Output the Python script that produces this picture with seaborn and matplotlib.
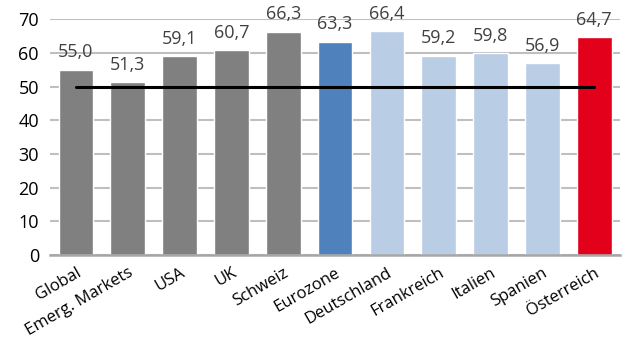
import matplotlib
matplotlib.use("Agg")
import matplotlib.pyplot as plt
import seaborn as sns
import pandas as pd

categories = ["Global", "Emerg. Markets", "USA", "UK", "Schweiz", "Eurozone",
              "Deutschland", "Frankreich", "Italien", "Spanien", "Österreich"]
values = [55.0, 51.3, 59.1, 60.7, 66.3, 63.3, 66.4, 59.2, 59.8, 56.9, 64.7]
threshold = [50] * len(categories)
colors = ["#808080"] * 5 + ["#4F81BD"] + ["#B9CDE5"] * 4 + ["#E2001A"]

sns.set_theme(style="white")
plt.rcParams['font.family'] = ['Open Sans', 'DejaVu Sans']

df = pd.DataFrame({"cat": categories, "val": values, "thr": threshold})

fig = plt.figure(figsize=(6.34, 3.41), dpi=100)
ax = fig.add_axes([0.079, 0.252, 0.899, 0.692])

sns.barplot(data=df, x="cat", y="val", hue="cat", palette=colors, legend=False,
            width=0.67, saturation=1, ax=ax, zorder=2)
sns.lineplot(x=list(range(len(categories))), y=df["thr"], color="black", linewidth=2.2,
             ax=ax, zorder=3)

ax.set_ylim(0, 70)
ax.set_xlim(-0.5, len(categories) - 0.5)
ax.set_yticks(range(0, 71, 10))
ax.yaxis.grid(True, color="#BFBFBF", linewidth=1.5, zorder=0)
ax.set_axisbelow(True)
for s in ["left", "right", "top"]:
    ax.spines[s].set_visible(False)
ax.spines["bottom"].set_color("#A6A6A6")
ax.spines["bottom"].set_linewidth(1.8)
ax.set_xlabel("")
ax.set_ylabel("")
ax.tick_params(axis="y", labelsize=13, colors="#000000", length=0, pad=8)
ax.tick_params(axis="x", labelsize=12, length=0, pad=7)
plt.setp(ax.get_xticklabels(), rotation=30, ha="right", rotation_mode="anchor", color="#000000")

for i, v in enumerate(values):
    ax.annotate(f"{v:.1f}".replace(".", ","), (i, v), xytext=(0, 6), textcoords="offset points",
                ha="center", va="bottom", fontsize=13, color="#404040", annotation_clip=False)

fig.savefig("out.png", dpi=100)
